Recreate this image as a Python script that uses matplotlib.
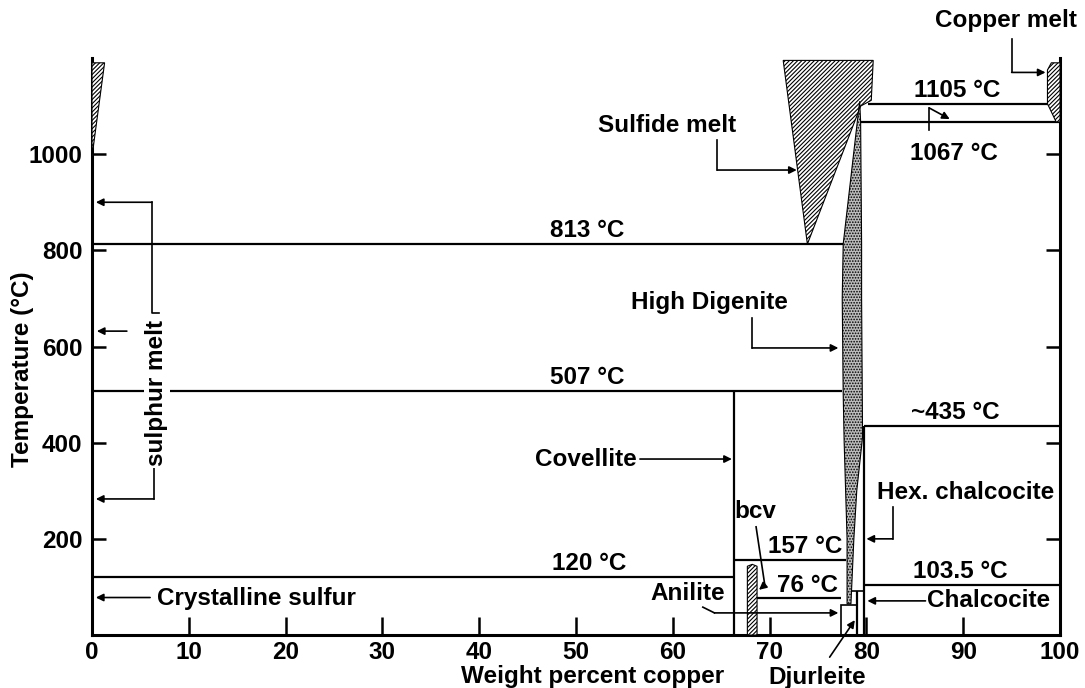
import numpy as np
import matplotlib.pyplot as plt
from matplotlib.patches import Polygon

plt.rcParams['font.family'] = ['Liberation Sans', 'DejaVu Sans']
plt.rcParams['font.weight'] = 'bold'
plt.rcParams['hatch.linewidth'] = 0.8

# invariant (horizontal) reactions: temperature, composition range, label
iso_temp = [813, 507, 120, 157, 76, 1105, 1067, 435, 103.5]
iso_x0 = [0, 0, 0, 66.3, 68.7, 80.2, 79.3, 79.7, 79.8]
iso_x1 = [77.6, 77.5, 66.3, 77.9, 77.4, 98.8, 100, 100, 100]
iso_text = ['813 °C', '507 °C', '120 °C', '157 °C', '76 °C',
            '1105 °C', '1067 °C', '~435 °C', '103.5 °C']
iso_text_x = [51.2, 51.2, 51.4, 73.7, 73.9, 89.4, 89.0, 89.2, 89.7]
iso_text_side = ['above'] * 6 + ['below', 'above', 'above']

# vertical phase boundaries: composition, T from, T to
vb_x = [66.3, 79.7, 79.0]
vb_t0 = [0, 0, 0]
vb_t1 = [507, 435, 91]

# two-phase/melt fields (wt% Cu, T)
sulphur_melt = [(0, 1190), (1.3, 1190), (0, 995)]
sulfide_melt = [(71.4, 1195), (80.7, 1195), (80.5, 1112), (79.4, 1100), (73.9, 813)]
copper_melt = [(98.7, 1175), (99.1, 1190), (100, 1190), (100, 1067),
               (99.6, 1067), (98.7, 1105)]
bcv_field = [(67.7, 0), (67.7, 143), (68.2, 147), (68.7, 143), (68.7, 0)]
high_digenite = [(79.3, 1110), (77.6, 813), (77.5, 700), (77.6, 500),
                 (77.7, 400), (78.0, 200), (78.0, 65), (78.4, 65), (78.7, 200),
                 (79.0, 300), (79.6, 412), (79.5, 700), (79.5, 813),
                 (79.4, 1067)]
djurleite_box = [(77.4, 0), (77.4, 62), (79.0, 62), (79.0, 0)]

xticks = [0, 10, 20, 30, 40, 50, 60, 70, 80, 90, 100]
yticks = [200, 400, 600, 800, 1000]

fig = plt.figure(figsize=(10.85, 6.88), dpi=100)
ax = fig.add_axes([0.0848, 0.077, 0.8922, 0.8387])
ax.set_xlim(0, 100)
ax.set_ylim(0, 1200)

FS = 17.5
LW = 1.6

for t, x0, x1 in zip(iso_temp, iso_x0, iso_x1):
    ax.plot([x0, x1], [t, t], color='k', lw=LW, solid_capstyle='butt')
for t, tx, txt, side in zip(iso_temp, iso_text_x, iso_text, iso_text_side):
    ty = t + 28 if side == 'above' else t - 66
    ax.text(tx, ty, txt, ha='center', va='center', fontsize=FS)

for x, t0, t1 in zip(vb_x, vb_t0, vb_t1):
    ax.plot([x, x], [t0, t1], color='k', lw=LW, solid_capstyle='butt')
ax.plot([78.5, 79.7], [91, 91], color='k', lw=1.2)

for pts in [sulphur_melt, sulfide_melt, copper_melt, bcv_field]:
    ax.add_patch(Polygon(pts, closed=True, facecolor='white', edgecolor='k',
                         hatch='////////', lw=0.8, zorder=3))
ax.add_patch(Polygon(high_digenite, closed=True, facecolor='#bdbdbd',
                     edgecolor='k', hatch='......', lw=0.8, zorder=3))
ax.add_patch(Polygon(djurleite_box, closed=False, facecolor='none',
                     edgecolor='k', lw=1.2, zorder=3))


def leader(xs, ys, lw=1.2):
    ax.plot(xs[:-1], ys[:-1], color='k', lw=lw, clip_on=False)
    ax.annotate('', xy=(xs[-1], ys[-1]), xytext=(xs[-2], ys[-2]),
                annotation_clip=False,
                arrowprops=dict(arrowstyle='-|>', color='k', lw=lw,
                                mutation_scale=11, shrinkA=0, shrinkB=0))


# labels with leader arrows
ax.text(94.4, 1279, 'Copper melt', ha='center', va='center', fontsize=FS,
        clip_on=False)
leader([95.0, 95.0, 95.0, 98.5], [1240, 1240, 1170, 1170])

ax.text(59.4, 1060, 'Sulfide melt', ha='center', va='center', fontsize=FS)
leader([64.6, 64.6, 72.8], [1030, 967, 967])

leader([86.5, 86.5, 88.6], [1050, 1096, 1073])

ax.text(63.8, 692, 'High Digenite', ha='center', va='center', fontsize=FS)
leader([68.2, 68.2, 77.1], [660, 597, 597])

ax.text(56.3, 366, 'Covellite', ha='right', va='center', fontsize=FS)
leader([56.6, 56.6, 66.1], [366, 366, 366])

ax.text(68.5, 256, 'bcv', ha='center', va='center', fontsize=FS)
leader([68.6, 69.5, 68.9], [225, 104, 94])

ax.text(61.5, 87, 'Anilite', ha='center', va='center', fontsize=FS)
leader([63.1, 64.3, 77.1], [58, 46, 46])

ax.text(90.2, 297, 'Hex. chalcocite', ha='center', va='center', fontsize=FS)
leader([82.7, 82.7, 80.0], [266, 200, 200])

ax.text(86.3, 71, 'Chalcocite', ha='left', va='center', fontsize=FS)
leader([86.1, 86.1, 80.1], [71, 71, 71])

ax.text(6.7, 76, 'Crystalline sulfur', ha='left', va='center', fontsize=FS)
leader([6.0, 6.0, 0.4], [78, 78, 78])

ax.text(74.9, -88, 'Djurleite', ha='center', va='center', fontsize=FS,
        clip_on=False)
leader([76.2, 76.2, 78.8], [-46, -46, 31])

# sulphur melt bracket
ax.text(6.7, 503, 'sulphur melt', rotation=90, ha='center', va='center',
        fontsize=FS, zorder=5,
        bbox=dict(facecolor='white', edgecolor='none', pad=1))
ax.plot([6.9, 6.2, 6.2], [669, 669, 900], color='k', lw=1.2)
leader([6.2, 6.2, 0.4], [900, 900, 900])
leader([6.4, 6.4, 0.4], [349, 283, 283])
leader([3.6, 3.6, 0.5], [632, 632, 632])

# axes styling
for side in ['left', 'right', 'bottom']:
    ax.spines[side].set_linewidth(2.2)
ax.spines['top'].set_visible(False)
ax.set_xticks(xticks)
ax.set_yticks(yticks)
ax.tick_params(direction='in', length=10, width=1.8, labelsize=FS,
               right=True, top=False)
ax.tick_params(axis='x', pad=4, length=13)
ax.tick_params(axis='y', pad=7)
fig.text(593 / 1085, 1 - 677 / 688, 'Weight percent copper', ha='center',
         va='center', fontsize=FS, fontweight='bold')
fig.text(23 / 1085, 1 - 369 / 688, 'Temperature (°C)', rotation=90,
         ha='center', va='center', fontsize=FS, fontweight='bold')

fig.savefig('out.png', dpi=100)
